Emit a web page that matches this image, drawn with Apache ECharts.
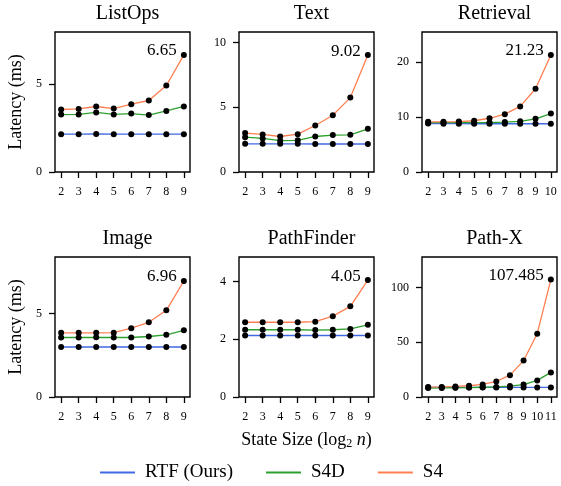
<!DOCTYPE html>
<html>
<head>
<meta charset="utf-8">
<script src="https://cdn.jsdelivr.net/npm/echarts@6/dist/echarts.min.js"></script>
<style>
html,body{margin:0;padding:0;background:#fff;}
#chart{width:561px;height:486px;}
</style>
</head>
<body>
<div id="chart"></div>
<script>
// ---- data ----
const titles = ['ListOps', 'Text', 'Retrieval', 'Image', 'PathFinder', 'Path-X'];
const xs9 = [2, 3, 4, 5, 6, 7, 8, 9];
const xs10 = [2, 3, 4, 5, 6, 7, 8, 9, 10];
const xs11 = [2, 3, 4, 5, 6, 7, 8, 9, 10, 11];
const seriesNames = ['RTF (Ours)', 'S4D', 'S4'];

const listopsRTF = [2.15, 2.15, 2.16, 2.15, 2.15, 2.15, 2.15, 2.15];
const listopsS4D = [3.26, 3.27, 3.38, 3.27, 3.32, 3.23, 3.47, 3.72];
const listopsS4  = [3.55, 3.58, 3.72, 3.60, 3.85, 4.06, 4.91, 6.65];

const textRTF = [2.17, 2.17, 2.17, 2.17, 2.16, 2.16, 2.16, 2.16];
const textS4D = [2.69, 2.59, 2.42, 2.44, 2.74, 2.85, 2.87, 3.33];
const textS4  = [3.00, 2.90, 2.74, 2.92, 3.59, 4.38, 5.74, 9.02];

const retrievalRTF = [8.78, 8.76, 8.76, 8.75, 8.75, 8.75, 8.75, 8.75, 8.75];
const retrievalS4D = [8.95, 8.95, 8.95, 8.96, 8.98, 9.05, 9.2, 9.65, 10.6];
const retrievalS4  = [9.1, 9.1, 9.15, 9.3, 9.75, 10.5, 11.9, 15.1, 21.23];

const imageRTF = [3.0, 3.0, 3.0, 3.0, 3.0, 3.0, 3.0, 3.0];
const imageS4D = [3.57, 3.57, 3.58, 3.57, 3.57, 3.63, 3.73, 4.0];
const imageS4  = [3.85, 3.85, 3.85, 3.86, 4.13, 4.48, 5.2, 6.96];

const pathfinderRTF = [2.13, 2.13, 2.13, 2.13, 2.13, 2.13, 2.13, 2.13];
const pathfinderS4D = [2.33, 2.33, 2.33, 2.33, 2.32, 2.33, 2.36, 2.50];
const pathfinderS4  = [2.59, 2.59, 2.59, 2.59, 2.61, 2.80, 3.14, 4.05];

const pathxRTF = [8.8, 8.8, 8.8, 8.8, 8.8, 8.8, 8.8, 8.8, 8.8, 8.8];
const pathxS4D = [8.2, 8.3, 8.4, 8.6, 8.9, 9.2, 10.0, 11.4, 15.2, 22.5];
const pathxS4  = [9.1, 9.2, 9.7, 10.3, 11.5, 14.2, 20.0, 33.3, 57.9, 107.485];

const yMax = [7.95, 10.8, 25.4, 8.4, 4.85, 128];
const yTicks = [[0, 5], [0, 5, 10], [0, 10, 20], [0, 5], [0, 2, 4], [0, 50, 100]];

const panels = [
  { x: xs9,  data: [listopsRTF, listopsS4D, listopsS4] },
  { x: xs9,  data: [textRTF, textS4D, textS4] },
  { x: xs10, data: [retrievalRTF, retrievalS4D, retrievalS4] },
  { x: xs9,  data: [imageRTF, imageS4D, imageS4] },
  { x: xs9,  data: [pathfinderRTF, pathfinderS4D, pathfinderS4] },
  { x: xs11, data: [pathxRTF, pathxS4D, pathxS4] }
];

// ---- styling / layout ----
const FONT = 'Liberation Serif';
const colors = ['#4169e1', '#2ca02c', '#ff7f50'];
const colLeft = [55, 239, 422];
const rowTop = [32, 257];
const gW = 135, gH = 140;

const grids = [], xAxes = [], yAxes = [], series = [], titleOpts = [];
panels.forEach((p, i) => {
  const c = i % 3, r = Math.floor(i / 3);
  grids.push({ left: colLeft[c], top: rowTop[r], width: gW, height: gH,
    show: true, borderColor: '#000', borderWidth: 1.4, backgroundColor: 'transparent' });
  const x0 = p.x[0], x1 = p.x[p.x.length - 1], pad = (x1 - x0) * 0.05;
  xAxes.push({
    type: 'value', gridIndex: i, min: x0 - pad, max: x1 + pad,
    splitLine: { show: false },
    axisLine: { show: false },
    axisTick: { show: true, length: 6, inside: false, customValues: p.x, lineStyle: { color: '#000', width: 1.3 } },
    axisLabel: { customValues: p.x, margin: 14, color: '#000', fontFamily: FONT, fontSize: 12 },
    name: i === 4 ? '{a|State Size (log}{s|2}{a| }{i|n}{a|)}' : '',
    nameLocation: 'middle', nameGap: 33,
    nameTextStyle: {
      rich: {
        a: { fontFamily: FONT, fontSize: 18, color: '#000' },
        s: { fontFamily: FONT, fontSize: 12, color: '#000', verticalAlign: 'bottom', padding: [8, 0, 0, 0] },
        i: { fontFamily: FONT, fontSize: 18, color: '#000', fontStyle: 'italic' }
      }
    }
  });
  yAxes.push({
    type: 'value', gridIndex: i, min: 0, max: yMax[i],
    splitLine: { show: false },
    axisLine: { show: false },
    axisTick: { show: true, length: 6, customValues: yTicks[i], lineStyle: { color: '#000', width: 1.3 } },
    axisLabel: { customValues: yTicks[i], margin: 13, color: '#000', fontFamily: FONT, fontSize: 12 },
    name: c === 0 ? 'Latency (ms)' : '',
    nameLocation: 'middle', nameGap: 30, nameRotate: 90,
    nameTextStyle: { fontFamily: FONT, fontSize: 18, color: '#000' }
  });
  titleOpts.push({
    text: titles[i], left: colLeft[c] + gW / 2, top: rowTop[r] - 33, textAlign: 'center',
    textStyle: { fontFamily: FONT, fontSize: 20, fontWeight: 'normal', color: '#000' }
  });
  p.data.forEach((vals, k) => {
    const pts = vals.map((v, j) => {
      const item = { value: [p.x[j], v] };
      if (k === 2 && j === vals.length - 1) {
        item.label = { show: true, position: 'left', distance: 4, offset: [0, -4],
          formatter: String(v), fontFamily: FONT, fontSize: 17, color: '#000' };
      }
      return item;
    });
    series.push({
      type: 'line', name: seriesNames[k], xAxisIndex: i, yAxisIndex: i,
      data: pts, symbol: 'circle', symbolSize: 6, showSymbol: true,
      lineStyle: { color: colors[k], width: 1.3 },
      itemStyle: { color: '#000' },
      label: { show: false },
      emphasis: { disabled: true },
      animation: false
    });
  });
});

const chart = echarts.init(document.getElementById('chart'), null, { renderer: 'canvas' });
chart.setOption({
  backgroundColor: '#fff',
  animation: false,
  title: titleOpts,
  grid: grids,
  xAxis: xAxes,
  yAxis: yAxes,
  legend: {
    left: 95, top: 458, icon: 'rect', itemWidth: 35, itemHeight: 2, itemGap: 33,
    textStyle: { fontFamily: FONT, fontSize: 19, color: '#000', padding: [0, 0, 0, 5] },
    data: seriesNames.map((n, k) => ({ name: n, itemStyle: { color: colors[k] } }))
  },
  series: series
});
</script>
</body>
</html>
